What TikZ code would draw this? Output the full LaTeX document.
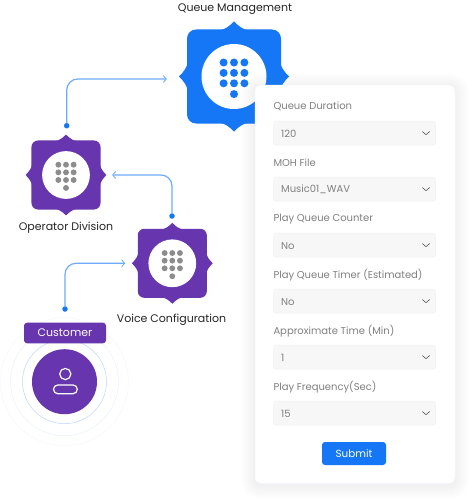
\documentclass[tikz,border=0pt]{standalone}
\usepackage{fontspec}
\usetikzlibrary{arrows.meta}
\setmainfont{Poppins}
\definecolor{brandblue}{HTML}{1677F6}
\definecolor{linkblue}{HTML}{6FABFC}
\definecolor{purp}{HTML}{6735AD}
\definecolor{dotgray}{HTML}{8C8C8C}
\definecolor{labelgray}{HTML}{808080}
\definecolor{fieldfill}{HTML}{F7F7F7}
\definecolor{fieldline}{HTML}{F1F1F1}
\definecolor{shadowblue}{HTML}{3C7DF0}
\tikzset{
  x=1pt,y=-1pt,
  conn/.style={draw=linkblue,line width=1.2pt,rounded corners=11pt,-{Straight Barb[length=3pt,width=7pt,line width=.8pt]}},
  linkdot/.style={circle,fill=brandblue,inner sep=0pt,minimum size=5.5pt},
  anchorbox/.style={rectangle,inner sep=0pt,minimum size=#1},
  title/.style={font=\fontsize{11pt}{13pt}\selectfont,text=black!85,inner sep=0pt},
  fieldlabel/.style={font=\fontsize{10pt}{12pt}\selectfont,text=labelgray,anchor=west,inner sep=0pt},
  fieldvalue/.style={font=\fontsize{10pt}{12pt}\selectfont,text=labelgray,anchor=west,inner sep=0pt},
  fieldbox/.style={rectangle,rounded corners=2.5pt,fill=fieldfill,draw=fieldline,line width=.5pt,minimum width=162pt,minimum height=24pt,inner sep=0pt},
  chev/.style={draw=black!60,line width=.7pt,line cap=round,line join=round},
}
\newcommand{\badge}[6]{% x,y,scale,fill,dot,name
  \node[anchorbox=#3*110pt] (#6) at (#1,#2) {};
  \begin{scope}[shift={(#1,#2)},scale=#3]
    \fill[#4,rounded corners=#3*9pt] (-47,-47) rectangle (47,47);
    \foreach \r in {0,90,180,270}{
      \fill[#4,rotate=\r] (-15,-46) .. controls (-9,-47) and (-5,-50) .. (0,-55) .. controls (5,-50) and (9,-47) .. (15,-46) -- cycle;
    }
    \fill[white] (0,0) circle[radius=32.5];
    \foreach \a in {-10.4,0,10.4}{\foreach \b in {-14,-3.6,6.8}{
      \fill[#5] (\a,\b) circle[radius=4];}}
    \fill[#5] (0,17.6) circle[radius=4];
  \end{scope}
}
\newcommand{\formfield}[4]{% y,label,value,name
  \node[fieldlabel] (#4l) at (273.3,#1-14.5) {#2};
  \node[fieldbox] (#4) at (354.5,#1+12) {};
  \node[fieldvalue] (#4v) at (281,#1+12.6) {#3};
  \draw[chev] (422.5,#1+10.5) -- (426,#1+13.5) -- (429.5,#1+10.5);
}
\begin{document}
\begin{tikzpicture}
\useasboundingbox (0,0) rectangle (475,503);
\fill[white] (0,0) rectangle (475,503);
% badges
\badge{234}{76.5}{1}{brandblue}{brandblue}{queue}
\badge{66}{175}{0.735}{purp}{dotgray}{oper}
\badge{172.3}{263.3}{0.735}{purp}{dotgray}{voice}
\node[title] (queuet) at (235,9) {Queue Management};
\node[title] (opert) at (66,228) {Operator Division};
\node[title] (voicet) at (171.5,319.5) {Voice Configuration};
% connector dots
\node[linkdot] (d1) at (66.7,125.7) {};
\node[linkdot] (d2) at (172,216) {};
\node[linkdot] (d3) at (65,309) {};
\draw[conn,shorten >=12pt] (d1) |- ([yshift=-2.5pt]queue.west);
\draw[conn,shorten >=5.5pt] (d2) |- (oper.east);
\draw[conn,shorten >=6.5pt] (d3) |- (voice.west);
% customer
\draw[draw=shadowblue!5,line width=.5pt] (64.5,381.7) circle[radius=64];
\draw[draw=shadowblue!11,line width=.5pt] (64.5,381.7) circle[radius=54];
\draw[draw=shadowblue!32,line width=.5pt] (64.5,381.7) circle[radius=42];
\node[circle,fill=purp,minimum size=65pt,inner sep=0pt] (cust) at (64.5,381.7) {};
\draw[white,line width=1.2pt] (65.3,374) circle[radius=5.6];
\draw[white,line width=1.2pt,rounded corners=4.3pt] (53.5,385) rectangle (77.3,393.7);
\node[rectangle,rounded corners=3pt,fill=purp,minimum width=82pt,minimum height=20.6pt,inner sep=0pt,text=white,font=\fontsize{11pt}{13pt}\selectfont] (custl) at (65,333) {Customer};
% card
\foreach \i in {1,...,14}{
  \fill[shadowblue,opacity=.0035,rounded corners=6pt+\i*1pt] (255-\i,85-\i+2) rectangle (455+\i,483.3+\i+2);
}
\node[rectangle,rounded corners=6pt,fill=white,draw=shadowblue!6,line width=.5pt,minimum width=200pt,minimum height=398.3pt,inner sep=0pt] (card) at (355,284.2) {};
\formfield{121.2}{Queue Duration}{120}{f1}
\formfield{177.2}{MOH File}{Music01\_WAV}{f2}
\formfield{233.2}{Play Queue Counter}{No}{f3}
\formfield{289.2}{Play Queue Timer (Estimated)}{No}{f4}
\formfield{345.2}{Approximate Time (Min)}{1}{f5}
\formfield{401.2}{Play Frequency(Sec)}{15}{f6}
\node[rectangle,rounded corners=3pt,fill=brandblue,minimum width=64pt,minimum height=23pt,inner sep=0pt,text=white,font=\fontsize{10.4pt}{13pt}\selectfont] (submit) at (354,453.5) {Submit};
\end{tikzpicture}
\end{document}
